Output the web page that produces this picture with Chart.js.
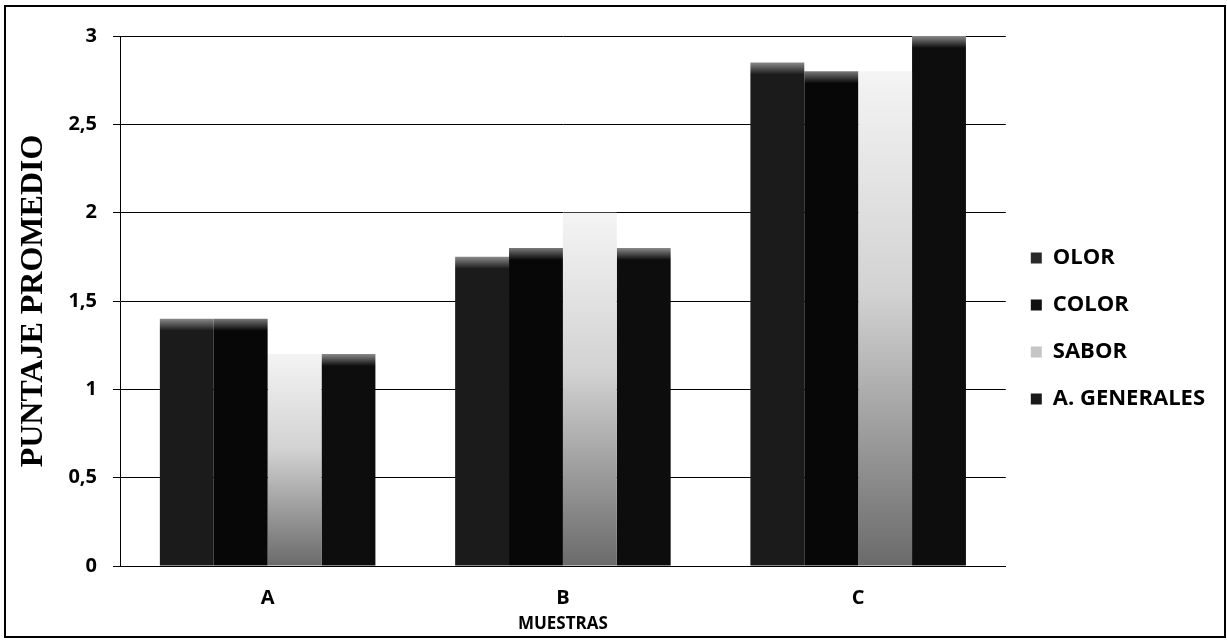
<!DOCTYPE html>
<html>
<head>
<meta charset="utf-8">
<script src="https://cdn.jsdelivr.net/npm/chart.js@4.4.1/dist/chart.umd.min.js"></script>
<style>
  html, body { margin: 0; padding: 0; background: #ffffff; }
  #wrap { position: relative; width: 1227px; height: 640px; }
  canvas { display: block; }
</style>
</head>
<body>
<div id="wrap"><canvas id="chart" width="1227" height="640"></canvas></div>
<script>
// Muestras evaluadas y puntaje promedio por atributo sensorial
const categories = ['A', 'B', 'C'];
const olor = [1.4, 1.75, 2.85];
const color = [1.4, 1.8, 2.8];
const sabor = [1.2, 2.0, 2.8];
const aGenerales = [1.2, 1.8, 3.0];
const yTicks = [0, 0.5, 1, 1.5, 2, 2.5, 3];
const legendFills = ['#2a2a2a', '#101010', '#c6c6c6', '#1a1a1a'];

// Dark bar with a lighter bevel along its top edge
function darkBar(body, cap) {
  return (ctx) => {
    if (ctx.type !== 'data' || !ctx.chart.chartArea) return body;
    const y = ctx.chart.scales.y;
    const top = y.getPixelForValue(ctx.raw);
    const g = ctx.chart.ctx.createLinearGradient(0, top, 0, top + 12);
    g.addColorStop(0, cap);
    g.addColorStop(1, body);
    return g;
  };
}

// Light bar fading to grey towards the base
function lightBar(fallback) {
  return (ctx) => {
    if (ctx.type !== 'data' || !ctx.chart.chartArea) return fallback;
    const y = ctx.chart.scales.y;
    const top = y.getPixelForValue(ctx.raw);
    const bottom = y.getPixelForValue(0);
    const g = ctx.chart.ctx.createLinearGradient(0, top, 0, bottom);
    g.addColorStop(0, '#f4f4f4');
    g.addColorStop(0.45, '#d2d2d2');
    g.addColorStop(1, '#6a6a6a');
    return g;
  };
}

// Thin frame around the whole figure
const framePlugin = {
  id: 'frame',
  afterDraw(chart) {
    const c = chart.ctx;
    c.save();
    c.strokeStyle = '#000';
    c.lineWidth = 2;
    c.strokeRect(5, 6, 1220, 631);
    c.restore();
  }
};

const tickFont = { family: 'Open Sans', weight: 'bold', size: 20 };

new Chart(document.getElementById('chart'), {
  type: 'bar',
  data: {
    labels: categories,
    datasets: [
      { label: 'OLOR', data: olor, backgroundColor: darkBar('#1b1b1b', '#8a8a8a') },
      { label: 'COLOR', data: color, backgroundColor: darkBar('#070707', '#7a7a7a') },
      { label: 'SABOR', data: sabor, backgroundColor: lightBar('#c4c4c4') },
      { label: 'A. GENERALES', data: aGenerales, backgroundColor: darkBar('#0d0d0d', '#8a8a8a') }
    ]
  },
  options: {
    responsive: false,
    animation: false,
    datasets: { bar: { categoryPercentage: 0.73, barPercentage: 1.0, borderWidth: 0 } },
    layout: { padding: { top: 36, bottom: 19, left: 0, right: 12 } },
    plugins: {
      tooltip: { enabled: false },
      legend: {
        position: 'right',
        align: 'center',
        labels: {
          color: '#000',
          font: { family: 'Open Sans', weight: 'bold', size: 22 },
          boxWidth: 11,
          boxHeight: 11,
          padding: 25,
          generateLabels(chart) {
            const items = Chart.defaults.plugins.legend.labels.generateLabels(chart);
            items.forEach((it, i) => { it.fillStyle = legendFills[i]; it.lineWidth = 0; });
            return items;
          }
        }
      }
    },
    scales: {
      x: {
        grid: { display: false, drawTicks: false },
        border: { display: true, color: '#000', width: 1 },
        ticks: { color: '#000', font: tickFont, padding: 20 },
        title: {
          display: true,
          text: 'MUESTRAS',
          color: '#000',
          font: { family: "'Liberation Sans Narrow', 'Open Sans'", weight: 'bold', size: 17 },
          padding: { top: 0, bottom: -13 }
        },
        afterFit(scale) { scale.height = 55; }
      },
      y: {
        min: 0,
        max: 3,
        afterBuildTicks(scale) { scale.ticks = yTicks.map(v => ({ value: v })); },
        grid: { color: '#000', lineWidth: 1, tickLength: 7 },
        border: { display: true, color: '#000', width: 1 },
        ticks: {
          color: '#000',
          font: tickFont,
          padding: 16,
          callback: (v) => String(v).replace('.', ',')
        },
        title: {
          display: true,
          text: 'PUNTAJE PROMEDIO',
          color: '#000',
          font: { family: 'Liberation Serif', weight: 'bold', size: 32 },
          padding: { top: 15, bottom: 0 }
        },
        afterFit(scale) { scale.width = 120; }
      }
    }
  },
  plugins: [framePlugin]
});
</script>
</body>
</html>
